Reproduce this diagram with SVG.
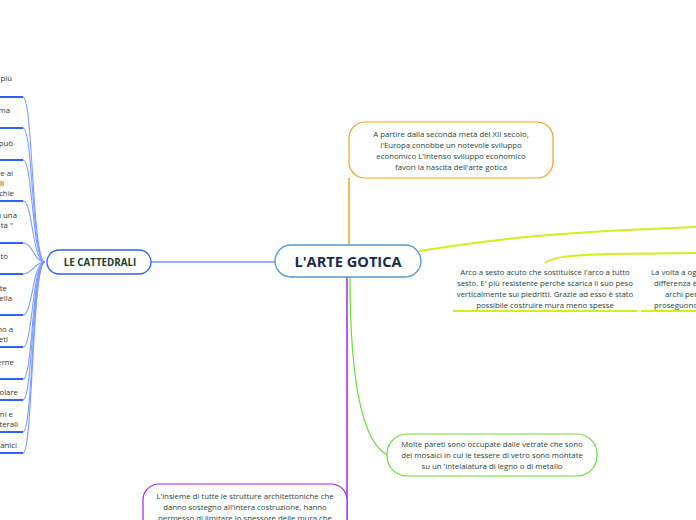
<svg xmlns="http://www.w3.org/2000/svg" width="696" height="520" viewBox="0 0 696 520">
<style>
.t{font-family:"Open Sans","Noto Sans","Liberation Sans",sans-serif;font-size:7.8px;fill:#27443a}
.l{font-family:"Open Sans","Noto Sans","Liberation Sans",sans-serif;font-size:7.8px;fill:#333;text-anchor:end}
.c{text-anchor:middle}
.ul{stroke:#2f62f5;stroke-width:2;fill:none}
.cv{stroke:#7b9bff;stroke-width:1.1;fill:none}
.yl{stroke:#d2ef1c;stroke-width:2;fill:none}
</style>
<rect width="696" height="520" fill="#fff"/>
<g id="connectors">
<path class="cv" d="M23,97 C33,97 32,262 45,262"/>
<path class="cv" d="M23,128 C33,128 32,262 45,262"/>
<path class="cv" d="M23,160 C33,160 32,262 45,262"/>
<path class="cv" d="M23,201 C33,201 32,262 45,262"/>
<path class="cv" d="M23,243 C33,243 34,262 45,262"/>
<path class="cv" d="M23,274 C33,274 34,262 45,262"/>
<path class="cv" d="M23,315 C33,315 32,262 45,262"/>
<path class="cv" d="M23,347 C33,347 32,262 45,262"/>
<path class="cv" d="M23,379 C33,379 32,262 45,262"/>
<path class="cv" d="M23,400 C33,400 32,262 45,262"/>
<path class="cv" d="M23,432 C33,432 32,262 45,262"/>
<path class="cv" d="M23,453 C33,453 32,262 45,262"/>
<path class="ul" d="M0,97 H23 M0,128 H23 M0,160 H23 M0,201 H23 M0,243 H23 M0,274 H23 M0,315 H23 M0,347 H23 M0,379 H23 M0,400 H23 M0,432 H23 M0,453 H23"/>
<path d="M151,262 H275" stroke="#2f62f5" stroke-width="1.2" fill="none"/>
<path d="M349,178 V245" stroke="#f5a020" stroke-width="1.5" fill="none"/>
<path class="yl" d="M419,251 C500,238 560,232 696,227"/>
<path class="yl" d="M545,263 C552,257 570,255 610,254 L696,253"/>
<path d="M350,277 C350,370 360,440 387,455" stroke="#66dd33" stroke-width="1.2" fill="none"/>
<path d="M347,277 V520" stroke="#aa22ee" stroke-width="1.5" fill="none"/>
</g>
<g id="left-items">
<text class="l" x="12" y="81">più</text>
<text class="l" x="10" y="113">ma</text>
<text class="l" x="13" y="146">può</text>
<text class="l" x="13" y="176">e ai</text>
<text class="l" x="4" y="186">li</text>
<text class="l" x="14" y="196">chie</text>
<text class="l" x="17" y="218">a una</text>
<text class="l" x="13" y="228">ta "</text>
<text class="l" x="8" y="259">to</text>
<text class="l" x="7" y="291">te</text>
<text class="l" x="12" y="301">ella</text>
<text class="l" x="13" y="332">no a</text>
<text class="l" x="8" y="342">eti</text>
<text class="l" x="14" y="365">erne</text>
<text class="l" x="18" y="395">olare</text>
<text class="l" x="13" y="417">ni e</text>
<text class="l" x="18" y="427">terali</text>
<text class="l" x="17" y="448">nanici</text>
</g>
<g id="le-cattedrali">
<rect x="47" y="250" width="104" height="24" rx="12" fill="#fff" stroke="#2f62f5" stroke-width="1.3"/>
<text x="100" y="265.5" text-anchor="middle" font-family="'Open Sans','Noto Sans','Liberation Sans',sans-serif" font-size="9.8" font-weight="bold" fill="#1b3d2e">LE CATTEDRALI</text>
</g>
<g id="arte-gotica">
<rect x="275" y="245" width="146" height="32" rx="16" fill="#fff" stroke="#4d9bd6" stroke-width="1.3"/>
<text x="348" y="266.5" text-anchor="middle" font-family="'Open Sans','Noto Sans','Liberation Sans',sans-serif" font-size="14.6" font-weight="bold" fill="#1a2b4c">L'ARTE GOTICA</text>
</g>
<g id="sviluppo">
<rect x="349" y="122" width="204" height="56" rx="16" fill="#fff" stroke="#f5a020" stroke-width="1.2"/>
<text class="t c" x="451" y="137">A partire dalla seconda metà del XII secolo,</text>
<text class="t c" x="451" y="148">l'Europa conobbe un notevole sviluppo</text>
<text class="t c" x="451" y="159">economico L'intenso sviluppo economico</text>
<text class="t c" x="451" y="170">favorì la nascita dell'arte gotica</text>
</g>
<g id="arco">
<text class="t c" x="545" y="275">Arco a sesto acuto che sostituisce l'arco a tutto</text>
<text class="t c" x="545" y="286">sesto. E' più resistente perchè scarica il suo peso</text>
<text class="t c" x="545" y="297">verticalmente sui piedritti. Grazie ad esso è stato</text>
<text class="t c" x="545" y="308">possibile costruire mura meno spesse</text>
<path class="yl" d="M453,311 H637"/>
</g>
<g id="volta">
<text class="t" x="651" y="275">La volta a ogi</text>
<text class="t" x="654" y="286">differenza è</text>
<text class="t" x="665" y="297">archi per</text>
<text class="t" x="654" y="308">proseguono</text>
<path class="yl" d="M641,311 H696"/>
</g>
<g id="vetrate">
<rect x="387" y="434" width="210" height="42" rx="20" fill="#fff" stroke="#66dd33" stroke-width="1.2"/>
<text class="t c" x="492" y="447">Molte pareti sono occupate dalle vetrate che sono</text>
<text class="t c" x="492" y="458">dei mosaici in cui le tessere di vetro sono montate</text>
<text class="t c" x="492" y="469">su un 'intelaiatura di legno o di metallo</text>
</g>
<g id="strutture">
<rect x="143" y="484" width="204" height="60" rx="16" fill="#fff" stroke="#aa22ee" stroke-width="1.2"/>
<text class="t c" x="245" y="499">L'insieme di tutte le strutture architettoniche che</text>
<text class="t c" x="245" y="510">danno sostegno all'intera costruzione, hanno</text>
<text class="t c" x="245" y="521">permesso di limitare lo spessore delle mura che</text>
</g>
</svg>
